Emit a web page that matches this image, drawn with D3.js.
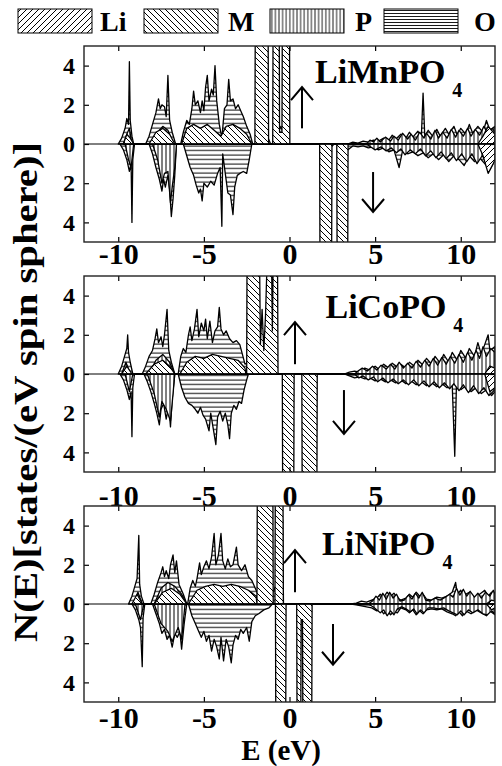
<!DOCTYPE html>
<html>
<head>
<meta charset="utf-8">
<script src="https://d3js.org/d3.v7.min.js"></script>
<style>
  body {margin: 0; background: #fff;}
</style>
</head>
<body>
<script>
// ---- data: [energy (eV), states/(eV spin sphere)] ; down-spin given as positive magnitude ----
const xTicks = [-10, -5, 0, 5, 10];
const yTicks = [-4, -2, 0, 2, 4];
const compounds = ["LiMnPO", "LiCoPO", "LiNiPO"];
const species = ["Li", "M", "P", "O"];

// LiMnPO4
const mnOUp = [[-10,0],[-9.8,.3],[-9.6,.8],[-9.5,1.3],[-9.4,1],[-9.35,4.2],[-9.3,1.2],[-9.2,.4],[-9.1,0],
  [-8.4,0],[-8.2,.4],[-8,1],[-7.8,1.6],[-7.65,2.3],[-7.55,1.8],[-7.45,2],[-7.3,1.9],[-7.2,1.4],[-7.1,3.5],[-7,1.2],[-6.85,.6],[-6.65,0],
  [-6.35,0],[-6.2,.6],[-6,1.2],[-5.85,1],[-5.7,1.8],[-5.6,2.7],[-5.5,2],[-5.35,2.2],[-5.2,1.6],[-5.1,2.2],[-5,1.7],[-4.9,2.9],[-4.8,3.5],[-4.7,2.2],[-4.55,2.8],[-4.45,2.5],[-4.35,4],[-4.25,2.2],[-4.1,1],[-3.95,.3],
  [-3.8,1.8],[-3.65,2],[-3.55,3.3],[-3.45,2.2],[-3.3,2.3],[-3.15,1.8],[-3,2],[-2.85,1.7],[-2.7,1.4],[-2.5,.9],[-2.3,.5],[-2.15,0],
  [-2,0],[-1.8,.5],[-1.6,.3],[-1.4,.6],[-1.2,.2],[-1.1,0],[-.9,0],[-.7,.5],[-.5,.9],[-.3,.4],[-.1,.6],[0,0],
  [3.4,0],[3.7,.1],[4,.05],[4.3,.15],[4.6,.1],[4.9,.2],[5.2,.15],[5.5,.3],[5.8,.2],[6,.45],[6.2,.25],[6.5,.5],[6.8,.3],[7,.6],[7.2,.35],[7.5,.65],[7.7,.4],[7.8,2.6],[7.9,.4],
  [8.1,.7],[8.4,.35],[8.6,.75],[8.8,.4],[9.1,.8],[9.3,.5],[9.6,.9],[9.8,.45],[10,.8],[10.3,.5],[10.5,1],[10.7,.55],[11,.9],[11.3,.6],[11.5,1.2],[11.7,.7],[12,.9]];
const mnODn = [[-9.9,0],[-9.7,.3],[-9.5,.8],[-9.35,1.4],[-9.25,1],[-9.2,4],[-9.15,.8],[-9.05,0],
  [-8.2,0],[-8,.5],[-7.8,1.2],[-7.6,1.8],[-7.45,2.4],[-7.35,1.8],[-7.25,2.2],[-7.1,1.6],[-7,2.3],[-6.9,3.7],[-6.8,2.8],[-6.7,1.6],[-6.6,0],
  [-6.2,0],[-6,.6],[-5.8,1.2],[-5.6,1.6],[-5.45,2.1],[-5.3,2.5],[-5.2,2.3],[-5.1,2.9],[-5,2],[-4.8,2.2],[-4.6,1.9],[-4.4,2.1],[-4.2,1.5],[-4.05,1.2],[-3.95,4.2],[-3.9,.5],
  [-3.75,1.5],[-3.6,2.5],[-3.45,2.6],[-3.3,3.6],[-3.2,2.2],[-3.05,1.6],[-2.9,1.5],[-2.7,1.4],[-2.5,1.5],[-2.35,.8],[-2.2,0],
  [1.8,0],[2.1,.3],[2.4,.2],[2.6,0],[2.8,0],[3.1,.4],[3.4,.3],
  [3.7,.1],[4,.15],[4.3,.1],[4.6,.2],[4.9,.15],[5.2,.3],[5.5,.2],[5.8,.4],[6.1,.3],[6.4,1.2],[6.6,.35],[6.9,.5],[7.2,.4],[7.5,.6],[7.8,.45],
  [8.1,.7],[8.4,.5],[8.7,.8],[9,.55],[9.3,.9],[9.6,.6],[9.9,.8],[10.2,1.1],[10.5,.6],[10.8,.9],[11.1,.7],[11.4,1],[11.7,1.3],[12,.8]];
const mnMUp = [[-9.7,0],[-9.5,.5],[-9.3,.3],[-9.1,0],[-8.2,0],[-7.8,.6],[-7.4,.8],[-7,.5],[-6.7,0],[-6.3,0],[-6,.8],[-5.6,1],[-5.2,.8],[-4.8,1],[-4.4,.7],[-4,.4],[-3.7,.9],[-3.3,1],[-2.9,.8],[-2.5,.5],[-2.2,0],
  [-2.02,0],[-2,6],[-1.25,6],[-1.22,0],[-.98,0],[-.96,6],[-.6,6],[-.58,.6],[-.44,.6],[-.42,6],[0,6],[.02,0]];
const mnMDn = [[1.76,0],[1.78,6],[2.46,6],[2.48,0],[2.76,0],[2.78,6],[3.4,6],[3.42,0]];
const mnPUp = [[-9.7,0],[-9.5,.5],[-9.35,.8],[-9.2,0],[-8,0],[-7.7,.6],[-7.4,.9],[-7.1,.7],[-6.8,0],
  [4.5,0],[4.7,.2],[4.9,.1],[5.1,.3],[5.3,.1],[5.6,.35],[5.9,.15],[6.1,.4],[6.35,.2],[6.6,.55],[6.9,.25],[7.1,.5],[7.35,.2],[7.6,.6],[7.85,.3],[8,.55],[8.25,.25],
  [8.5,.7],[8.7,.3],[8.95,.6],[9.2,.3],[9.45,.75],[9.7,.35],[9.9,.7],[10.15,.4],[10.4,.8],[10.6,.4],[10.85,.75],[11.1,.45],[11.35,.9],[11.6,.5],[11.85,.8],[12,.6]];
const mnPDn = [[-9.6,0],[-9.4,.8],[-9.25,1.2],[-9.1,0],[-8,0],[-7.7,.8],[-7.45,2],[-7.3,1.5],[-7.1,1.4],[-6.95,3],[-6.85,2.2],[-6.7,1.2],[-6.6,0],
  [4.5,0],[4.75,.15],[5,.3],[5.35,.15],[5.65,.35],[5.95,.2],[6.25,.45],[6.5,.25],[6.75,.55],[7.05,.3],[7.35,.5],[7.65,.25],[7.95,.6],[8.25,.35],[8.55,.7],
  [8.85,.4],[9.15,.75],[9.45,.45],[9.75,.85],[10.05,.5],[10.35,.9],[10.65,.5],[10.95,1],[11.25,.6],[11.55,.9],[11.85,.7],[12,.8]];
const mnLiUp = [[11,0],[11.3,.4],[11.6,.9],[11.9,.6],[12,.5]];
const mnLiDn = [[11,0],[11.3,.6],[11.6,1.5],[11.9,1],[12,.8]];

// LiCoPO4
const coOUp = [[-10,0],[-9.8,.4],[-9.6,1],[-9.5,1.3],[-9.45,2],[-9.4,1.1],[-9.3,.6],[-9.15,0],
  [-8.6,0],[-8.4,.4],[-8.2,.9],[-8,1.2],[-7.85,1.8],[-7.75,2.3],[-7.65,1.6],[-7.5,1.9],[-7.4,1.4],[-7.3,2],[-7.15,3.3],[-7.05,1.2],[-6.9,.6],[-6.7,0],
  [-6.5,0],[-6.35,.9],[-6.2,1.3],[-6.05,1.1],[-5.9,2],[-5.8,2.4],[-5.7,1.7],[-5.55,2.3],[-5.4,3.3],[-5.3,1.9],[-5.15,2.6],[-5,2.2],[-4.9,2.8],[-4.8,1.8],[-4.65,2.7],[-4.5,1.6],[-4.35,2.2],[-4.2,2.4],[-4.1,3.4],[-4,2.3],
  [-3.85,2],[-3.7,2.2],[-3.5,1.8],[-3.3,1.6],[-3.1,1.7],[-2.9,1.5],[-2.75,1],[-2.6,.5],
  [-2.4,.6],[-2.2,.9],[-2,.5],[-1.8,1.1],[-1.6,.7],[-1.4,.9],[-1.2,.6],[-1,.8],[-.8,.5],[-.68,0],
  [3.2,0],[3.5,.1],[3.8,.15],[4.1,.1],[4.4,.3],[4.7,.2],[5,.4],[5.2,.25],[5.5,.5],[5.8,.3],[6,.55],[6.3,.35],[6.5,.5],[6.8,.3],[7,.6],[7.3,.4],[7.5,.7],[7.8,.45],
  [8,.8],[8.3,.5],[8.5,.9],[8.8,.55],[9,1],[9.3,.6],[9.5,1.1],[9.8,.7],[10,1.2],[10.3,.8],[10.5,1.3],[10.8,.9],[11,1.6],[11.2,1],[11.4,1.5],[11.6,2],[11.7,1.2],[12,1.4]];
const coODn = [[-9.9,0],[-9.7,.3],[-9.5,.8],[-9.35,1.3],[-9.25,.9],[-9.2,3.2],[-9.15,.7],[-9.05,0],
  [-8.5,0],[-8.3,.4],[-8.1,.9],[-7.9,1.5],[-7.75,2],[-7.6,2.6],[-7.5,1.8],[-7.35,1.5],[-7.2,2.3],[-7.05,1.6],[-6.95,2.7],[-6.85,1.3],[-6.7,0],
  [-6.5,0],[-6.3,.7],[-6.1,1.2],[-5.9,1.5],[-5.7,1.6],[-5.5,1.8],[-5.35,2],[-5.2,1.7],[-5.05,2.1],[-4.9,2.3],[-4.7,2.9],[-4.6,2],[-4.45,2.8],[-4.3,3.6],[-4.2,2.2],[-4.05,1.9],
  [-3.9,2.4],[-3.75,2],[-3.6,2.6],[-3.5,3.3],[-3.4,2],[-3.25,1.6],[-3.1,1.8],[-2.95,1.4],[-2.8,1.5],[-2.65,.8],[-2.5,.3],[-2.4,0],
  [-.4,0],[-.2,.4],[0,.2],[.2,0],[.75,0],[1,.5],[1.3,.3],[1.6,0],
  [3.2,0],[3.5,.1],[3.8,.2],[4.1,.15],[4.4,.25],[4.7,.2],[5,.35],[5.3,.25],[5.6,.4],[5.9,.3],[6.2,.45],[6.5,.3],[6.8,.5],[7.1,.35],[7.4,.55],[7.7,.4],
  [8,.6],[8.3,.45],[8.6,.65],[8.9,.5],[9.2,.7],[9.5,.5],[9.65,4.2],[9.75,.5],[10,.8],[10.3,.6],[10.6,.9],[10.9,.7],[11.2,1],[11.5,.8],[11.8,1.1],[12,.9]];
const coMUp = [[-9.8,0],[-9.5,.4],[-9.2,0],[-8.4,0],[-7.9,.5],[-7.4,.7],[-7,.4],[-6.7,0],[-6.4,0],[-6,.6],[-5.5,.9],[-5,.8],[-4.5,1],[-4,.9],[-3.5,.8],[-3,.7],[-2.6,.3],[-2.55,0],
  [-2.5,0],[-2.48,6],[-1.75,6],[-1.7,1.5],[-1.6,3.3],[-1.5,1.2],[-1.4,3],[-1.3,6],[-1.05,6],[-1,2.2],[-.95,6],[-.7,6],[-.67,0]];
const coMDn = [[-.42,0],[-.4,6],[.25,6],[.27,0],[.72,0],[.74,6],[1.6,6],[1.62,0]];
const coPUp = [[-9.8,0],[-9.55,.6],[-9.3,0],[-8.2,0],[-7.8,.7],[-7.4,1],[-7,.6],[-6.7,0],
  [3.8,0],[4,.15],[4.25,.3],[4.55,.15],[4.85,.4],[5.1,.2],[5.35,.45],[5.65,.25],[5.9,.5],[6.15,.25],[6.4,.6],[6.65,.3],[6.9,.55],[7.15,.3],[7.4,.65],[7.65,.35],[7.9,.7],
  [8.15,.4],[8.4,.8],[8.65,.45],[8.9,.85],[9.15,.5],[9.4,.9],[9.65,.55],[9.9,1],[10.15,.6],[10.4,1.1],[10.65,.7],[10.9,1.2],[11.1,.8],[11.3,1.4],[11.5,.9],[11.75,1.3],[12,1.1]];
const coPDn = [[-9.6,0],[-9.35,.9],[-9.15,0],[-8.3,0],[-7.9,1],[-7.6,2.2],[-7.45,1.4],[-7.2,1.8],[-6.95,2.4],[-6.8,1],[-6.7,0],
  [3.8,0],[4.05,.2],[4.3,.1],[4.6,.3],[4.9,.15],[5.15,.4],[5.45,.2],[5.75,.45],[6.05,.25],[6.35,.5],[6.65,.3],[6.95,.55],[7.25,.3],[7.55,.6],[7.85,.35],
  [8.15,.65],[8.45,.4],[8.75,.7],[9.05,.45],[9.35,.75],[9.6,.5],[9.9,.85],[10.15,.55],[10.45,.95],[10.75,.6],[11.05,1],[11.35,.7],[11.65,1.1],[12,.8]];
const coLiUp = [[11.4,0],[11.7,.4],[12,.3]];
const coLiDn = [[11.4,0],[11.7,.9],[12,.7]];

// LiNiPO4
const niOUp = [[-9.4,0],[-9.2,.4],[-9,1],[-8.9,1.3],[-8.8,3.5],[-8.75,1],[-8.65,.4],[-8.5,0],
  [-8.1,0],[-7.9,.5],[-7.7,1.1],[-7.5,1.6],[-7.4,1.9],[-7.3,1.4],[-7.2,1.7],[-7.05,1.3],[-6.95,2],[-6.8,2.5],[-6.7,1.6],[-6.6,2.2],[-6.45,1],[-6.2,.5],[-6,0],
  [-5.95,0],[-5.8,.8],[-5.65,1.2],[-5.5,.9],[-5.4,1.3],[-5.25,2.1],[-5.15,1.5],[-5,1.9],[-4.85,2.2],[-4.7,1.8],[-4.55,2.4],[-4.4,3.6],[-4.3,2],[-4.15,2.5],[-4,3.6],[-3.9,2.2],
  [-3.75,1.8],[-3.6,2.3],[-3.45,1.9],[-3.3,2],[-3.1,2.9],[-3,2],[-2.8,1.7],[-2.6,2],[-2.4,1.4],[-2.2,1.2],[-2,.8],[-1.85,.5],
  [-1.6,.6],[-1.3,1],[-1.1,.5],[-.9,.7],[-.7,1.2],[-.55,.6],[-.4,4.3],[-.35,0],
  [3.6,0],[3.9,.05],[4.2,.15],[4.5,.1],[4.8,.2],[5.1,.3],[5.3,.5],[5.5,.35],[5.7,.6],[5.9,.4],[6.1,.55],[6.3,.3],[6.5,.2],[6.8,.3],[7,.5],[7.2,.35],[7.4,.6],[7.6,.4],[7.8,.5],
  [8,.25],[8.3,.2],[8.6,.35],[8.9,.3],[9.2,.4],[9.5,.6],[9.7,1.1],[9.8,.5],[10,.7],[10.2,.45],[10.5,.6],[10.8,.3],[11.1,.5],[11.4,.7],[11.6,.4],[11.8,.6],[12,.5]];
const niODn = [[-9.2,0],[-9,.3],[-8.8,.8],[-8.7,1.2],[-8.6,3.2],[-8.55,.7],[-8.45,0],
  [-8,0],[-7.8,.5],[-7.6,1],[-7.45,1.5],[-7.3,1.3],[-7.15,1.8],[-7,1.6],[-6.85,2.2],[-6.7,1.5],[-6.55,1.7],[-6.4,1.4],[-6.3,2.3],[-6.15,1],[-6,0],
  [-5.9,0],[-5.7,.6],[-5.5,1],[-5.3,1.4],[-5.15,1.7],[-5,1.4],[-4.85,1.9],[-4.7,1.6],[-4.55,2.4],[-4.4,1.8],[-4.25,2.2],[-4.1,2.8],[-4,1.7],[-3.85,2.9],[-3.7,1.8],[-3.55,2.2],
  [-3.4,3],[-3.3,2.1],[-3.15,1.6],[-3,1.8],[-2.85,1.3],[-2.7,1.5],[-2.5,1.2],[-2.35,1.9],[-2.2,.9],[-2,.6],[-1.8,.5],[-1.5,.3],[-1.2,.2],[-1,0],
  [3.6,0],[3.9,.05],[4.2,.1],[4.5,.15],[4.8,.2],[5.1,.35],[5.3,.25],[5.5,.5],[5.7,.35],[5.9,.55],[6.1,.4],[6.3,.45],[6.5,.2],[6.8,.3],[7,.45],[7.2,.3],[7.4,.55],[7.6,.35],[7.8,.5],
  [8,.3],[8.3,.25],[8.6,.3],[8.9,.25],[9.2,.4],[9.5,.5],[9.7,.6],[9.9,.4],[10.1,.6],[10.3,.35],[10.6,.5],[10.9,.3],[11.2,.45],[11.5,.6],[11.7,.35],[12,.55]];
const niMUp = [[-9.2,0],[-8.9,.5],[-8.6,0],[-7.9,0],[-7.4,.6],[-6.9,.8],[-6.4,.5],[-6,0],[-5.9,0],[-5.4,.7],[-4.9,.9],[-4.4,1],[-3.9,.9],[-3.4,1],[-2.9,.9],[-2.4,.7],[-1.95,.4],
  [-1.9,0],[-1.88,6],[-.97,6],[-.95,0],[-.85,0],[-.83,6],[-.38,6],[-.36,0]];
const niMDn = [[-.82,0],[-.8,6],[-.22,6],[-.2,0],[.42,0],[.44,6],[.66,6],[.68,.8],[.76,.8],[.78,6],[1.3,6],[1.32,0]];
const niPUp = [[-9.1,0],[-8.85,.6],[-8.6,0],[-7.9,0],[-7.5,.8],[-7.1,1.1],[-6.7,.9],[-6.3,.5],[-6,0],
  [4.6,0],[4.85,.15],[5.05,.4],[5.25,.2],[5.45,.55],[5.65,.25],[5.85,.6],[6.05,.3],[6.25,.5],[6.45,.15],[6.7,.2],[6.95,.45],[7.15,.25],[7.35,.55],[7.55,.3],[7.75,.6],[7.95,.2],
  [8.2,.15],[8.5,.3],[8.8,.2],[9.1,.35],[9.35,.5],[9.55,.35],[9.75,.8],[9.95,.45],[10.15,.75],[10.35,.4],[10.55,.65],[10.8,.35],[11,.55],[11.2,.3],[11.45,.6],[11.7,.4],[11.9,.7],[12,.5]];
const niPDn = [[-9,0],[-8.7,.8],[-8.5,0],[-7.9,0],[-7.5,1],[-7.1,1.4],[-6.85,1.9],[-6.5,1.2],[-6.3,1.8],[-6.1,0],
  [4.6,0],[4.9,.15],[5.1,.3],[5.3,.45],[5.5,.3],[5.7,.6],[5.9,.35],[6.1,.55],[6.3,.25],[6.55,.15],[6.8,.25],[7.05,.4],[7.25,.25],[7.45,.5],[7.65,.3],[7.85,.45],
  [8.1,.2],[8.4,.2],[8.7,.25],[9,.2],[9.3,.35],[9.55,.45],[9.8,.55],[10,.35],[10.2,.55],[10.45,.3],[10.7,.45],[11,.3],[11.3,.5],[11.55,.55],[11.8,.35],[12,.5]];
const niLiUp = [[11.5,0],[11.8,.2],[12,.15]];
const niLiDn = [[11.5,0],[11.8,.3],[12,.2]];

// spin arrows: [E, from, to]
const mnArrows = [[0.73, 0.8, 2.9], [4.88, -1.43, -3.47]];
const coArrows = [[0.32, 0.5, 2.65], [3.18, -0.82, -3.06]];
const niArrows = [[0.32, 0.6, 2.75], [2.54, -1.02, -3.1]];

// ---- layout ----
const width = 502, height = 766;
const left = 84, right = 495, ph = 196;
const serif = "Liberation Serif";

const panels = [
  {title: compounds[0], top: 46, labelPad: 1, tx: 1.49, ty: 3.1,
   Li: [mnLiUp, mnLiDn], M: [mnMUp, mnMDn], P: [mnPUp, mnPDn], O: [mnOUp, mnODn], arrows: mnArrows},
  {title: compounds[1], top: 276, labelPad: 13, tx: 2.1, ty: 2.85,
   Li: [coLiUp, coLiDn], M: [coMUp, coMDn], P: [coPUp, coPDn], O: [coOUp, coODn], arrows: coArrows},
  {title: compounds[2], top: 506, labelPad: 5, tx: 1.9, ty: 2.5,
   Li: [niLiUp, niLiDn], M: [niMUp, niMDn], P: [niPUp, niPDn], O: [niOUp, niODn], arrows: niArrows}
];

const svg = d3.select("body").append("svg")
    .attr("width", width)
    .attr("height", height)
    .attr("font-family", serif)
    .attr("font-weight", "bold");

const defs = svg.append("defs");
function hatch(id, w, h, path, sw) {
  const p = defs.append("pattern").attr("id", id)
      .attr("patternUnits", "userSpaceOnUse")
      .attr("width", w).attr("height", h);
  p.append("rect").attr("width", w).attr("height", h).attr("fill", "#fff");
  p.append("path").attr("d", path).attr("stroke", "#000").attr("stroke-width", sw).attr("fill", "none");
}
hatch("hLi", 6, 6, "M0,6L6,0M-1,1L1,-1M5,7L7,5", 1);
hatch("hM", 6, 6, "M0,0L6,6M-1,5L1,7M5,-1L7,1", 1);
hatch("hP", 4, 4, "M2,0V4", 1);
hatch("hO", 4, 4.5, "M0,2H4", 1);
hatch("lP", 3.6, 4, "M1.8,0V4", 0.9);
hatch("lO", 4, 3, "M0,1.5H4", 0.9);

const x = d3.scaleLinear().domain([-12, 12]).range([left, right]);

// legend
const legendX = [18, 144, 270, 384];
const legendTextX = [100, 228, 355, 474];
const legendFill = ["hLi", "hM", "lP", "lO"];
species.forEach((s, i) => {
  svg.append("rect")
      .attr("x", legendX[i]).attr("y", 9)
      .attr("width", 74).attr("height", 24)
      .attr("fill", `url(#${legendFill[i]})`)
      .attr("stroke", "#000").attr("stroke-width", 1);
  svg.append("text")
      .attr("x", legendTextX[i]).attr("y", 31)
      .attr("font-family", serif).attr("font-weight", "bold")
      .attr("font-size", 28)
      .text(s);
});

const order = ["O", "P", "M", "Li"];
const fills = {Li: "hLi", M: "hM", P: "hP", O: "hO"};

panels.forEach((pn, k) => {
  const y = d3.scaleLinear().domain([-5, 5]).range([pn.top + ph, pn.top]);
  const g = svg.append("g");

  g.append("rect")
      .attr("x", left).attr("y", pn.top)
      .attr("width", right - left).attr("height", ph)
      .attr("fill", "#fff");

  const clipId = "clip" + k;
  defs.append("clipPath").attr("id", clipId)
    .append("rect")
      .attr("x", left).attr("y", pn.top)
      .attr("width", right - left).attr("height", ph);

  const plot = g.append("g").attr("clip-path", `url(#${clipId})`);

  order.forEach(sp => {
    [1, -1].forEach((sign, j) => {
      const area = d3.area()
          .x(d => x(d[0]))
          .y0(y(0))
          .y1(d => y(sign * d[1]));
      plot.append("path")
          .datum(pn[sp][j])
          .attr("d", area)
          .attr("fill", `url(#${fills[sp]})`)
          .attr("stroke", "#000")
          .attr("stroke-width", 1.3)
          .attr("stroke-linejoin", "round");
    });
  });

  plot.append("line")
      .attr("x1", left).attr("x2", right)
      .attr("y1", y(0)).attr("y2", y(0))
      .attr("stroke", "#000").attr("stroke-width", 1);

  // arrows
  pn.arrows.forEach(a => {
    const ax = x(a[0]), y1 = y(a[1]), y2 = y(a[2]);
    const dir = y2 < y1 ? 1 : -1;
    plot.append("line")
        .attr("x1", ax).attr("x2", ax).attr("y1", y1).attr("y2", y2)
        .attr("stroke", "#000").attr("stroke-width", 2);
    plot.append("path")
        .attr("d", `M${ax - 11},${y2 + dir * 13}L${ax},${y2}L${ax + 11},${y2 + dir * 13}`)
        .attr("fill", "none").attr("stroke", "#000").attr("stroke-width", 2);
  });

  // title
  const t = g.append("text")
      .attr("x", x(pn.tx)).attr("y", y(pn.ty))
      .attr("font-family", serif).attr("font-weight", "bold")
      .attr("font-size", 34);
  t.append("tspan").text(pn.title);
  t.append("tspan").attr("dx", 7).attr("dy", 14).attr("font-size", 20).text("4");

  // axes
  const axB = g.append("g")
      .attr("transform", `translate(0,${pn.top + ph})`)
      .call(d3.axisBottom(x).tickValues(xTicks).tickSizeInner(-5).tickSizeOuter(0)
        .tickPadding(pn.labelPad).tickFormat(d => String(d)));
  axB.attr("font-family", serif).attr("font-size", 30).attr("font-weight", "bold");

  g.append("g")
      .attr("transform", `translate(0,${pn.top})`)
      .call(d3.axisTop(x).tickValues(xTicks).tickSizeInner(-5).tickSizeOuter(0).tickFormat(""));

  const axL = g.append("g")
      .attr("transform", `translate(${left},0)`)
      .call(d3.axisLeft(y).tickValues(yTicks).tickSizeInner(-5).tickSizeOuter(0)
        .tickPadding(9).tickFormat(d => Math.abs(d)));
  axL.attr("font-family", serif).attr("font-size", 24).attr("font-weight", "bold");

  g.append("g")
      .attr("transform", `translate(${right},0)`)
      .call(d3.axisRight(y).tickValues(yTicks).tickSizeInner(-5).tickSizeOuter(0).tickFormat(""));

  g.selectAll(".domain").remove();
  g.selectAll(".tick line").attr("stroke-width", 1.2);

  g.append("rect")
      .attr("x", left).attr("y", pn.top)
      .attr("width", right - left).attr("height", ph)
      .attr("fill", "none").attr("stroke", "#222").attr("stroke-width", 1.4);
});

// axis titles
svg.append("text")
    .attr("x", 281).attr("y", 760)
    .attr("text-anchor", "middle")
    .attr("font-family", serif).attr("font-weight", "bold")
    .attr("font-size", 29)
    .text("E (eV)");

svg.append("text")
    .attr("transform", "translate(37,392) rotate(-90)")
    .attr("text-anchor", "middle")
    .attr("textLength", 500)
    .attr("lengthAdjust", "spacingAndGlyphs")
    .attr("font-family", serif).attr("font-weight", "bold")
    .attr("font-size", 34)
    .text("N(E)[states/(eV spin sphere)]");
</script>
</body>
</html>
